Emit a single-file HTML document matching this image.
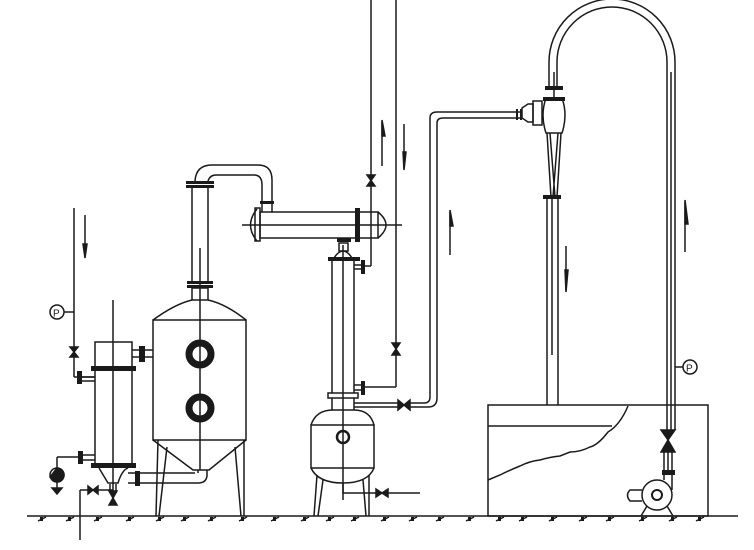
<!DOCTYPE html>
<html><head><meta charset="utf-8"><style>
html,body{margin:0;padding:0;background:#fff;}
svg{display:block;}
</style></head><body>
<svg width="754" height="550" viewBox="0 0 754 550" xmlns="http://www.w3.org/2000/svg" fill="none" stroke="#1a1a1a" stroke-width="1.5">
<!-- ground -->
<line x1="27" y1="516" x2="738" y2="516"/>
<g stroke-width="1.5">
<path d="M38 521l8-4M66 521l8-4M94 521l8-4M126 521l8-4M156 521l8-4M181 521l8-4M208 521l8-4M239 521l8-4M271 521l8-4M301 521l8-4M326 521l8-4M351 521l8-4M381 521l8-4M409 521l8-4M436 521l8-4M466 521l8-4M496 521l8-4M519 521l8-4M549 521l8-4M579 521l8-4M606 521l8-4M639 521l8-4M669 521l8-4M696 521l8-4"/>
</g>
<g fill="#1a1a1a" stroke="none">
<rect x="40" y="517" width="3" height="4"/><rect x="68" y="517" width="3" height="4"/><rect x="96" y="517" width="3" height="4"/><rect x="128" y="517" width="3" height="4"/><rect x="158" y="517" width="3" height="4"/><rect x="183" y="517" width="3" height="4"/><rect x="210" y="517" width="3" height="4"/><rect x="241" y="517" width="3" height="4"/><rect x="273" y="517" width="3" height="4"/><rect x="303" y="517" width="3" height="4"/><rect x="328" y="517" width="3" height="4"/><rect x="353" y="517" width="3" height="4"/><rect x="383" y="517" width="3" height="4"/><rect x="411" y="517" width="3" height="4"/><rect x="438" y="517" width="3" height="4"/><rect x="468" y="517" width="3" height="4"/><rect x="498" y="517" width="3" height="4"/><rect x="521" y="517" width="3" height="4"/><rect x="551" y="517" width="3" height="4"/><rect x="581" y="517" width="3" height="4"/><rect x="608" y="517" width="3" height="4"/><rect x="641" y="517" width="3" height="4"/><rect x="671" y="517" width="3" height="4"/><rect x="698" y="517" width="3" height="4"/>
</g>

<!-- left feed line -->
<line x1="74" y1="208" x2="74" y2="377"/>
<line x1="74" y1="377" x2="95" y2="377"/>
<line x1="85" y1="215" x2="85" y2="250"/>
<path d="M83 244 L85 258 L87 244Z" fill="#1a1a1a"/>
<line x1="64" y1="312" x2="74" y2="312"/>
<circle cx="57" cy="312" r="7"/>
<text x="53" y="316.5" font-family="Liberation Sans, sans-serif" font-size="10" fill="#1a1a1a" stroke="none">P</text>
<path d="M70 347 L78 347 L70 357 L78 357Z" fill="#1a1a1a"/>
<rect x="77" y="371" width="5" height="13" fill="#1a1a1a" stroke="none"/>

<!-- left exchanger -->
<rect x="95" y="342" width="37" height="124"/>
<line x1="113" y1="300" x2="113" y2="500"/>
<rect x="91" y="366" width="45" height="5" fill="#1a1a1a" stroke="none"/>
<rect x="91" y="463" width="45" height="5" fill="#1a1a1a" stroke="none"/>
<path d="M99 468 L108 483 L118 483 Q122 470 128 468"/>
<line x1="82" y1="377" x2="95" y2="377"/><line x1="82" y1="381" x2="95" y2="381"/>
<line x1="132" y1="350" x2="140" y2="350"/><line x1="132" y1="357" x2="140" y2="357"/>
<rect x="139" y="346" width="6" height="16" fill="#1a1a1a" stroke="none"/>
<line x1="145" y1="350" x2="153" y2="350"/><line x1="145" y1="357" x2="153" y2="357"/>
<line x1="57" y1="457" x2="78" y2="457"/>
<rect x="78" y="451" width="5" height="13" fill="#1a1a1a" stroke="none"/>
<line x1="83" y1="455" x2="95" y2="455"/><line x1="83" y1="460" x2="95" y2="460"/>
<line x1="57" y1="457" x2="57" y2="468"/>
<circle cx="57" cy="475" r="7"/>
<path d="M57 468 A7 7 0 0 1 57 482 L50 477 Z" fill="#1a1a1a"/>
<path d="M54 475 A7 7 0 0 0 57 482" fill="#1a1a1a"/>
<line x1="57" y1="482" x2="57" y2="490"/>
<path d="M52 488 L62 488 L57 494Z" fill="#1a1a1a"/>
<line x1="80" y1="490" x2="113" y2="490"/>
<line x1="80" y1="490" x2="80" y2="540"/>
<path d="M88 486 L88 494 L98 486 L98 494Z" fill="#1a1a1a"/>
<path d="M109 491 L117 491 L109 505 L117 505Z" fill="#1a1a1a"/>
<line x1="110" y1="484" x2="110" y2="492"/><line x1="116" y1="484" x2="116" y2="492"/>

<rect x="135" y="471" width="5" height="15" fill="#1a1a1a" stroke="none"/>
<path d="M128 473 L135 473 M128 483 L135 483"/>
<path d="M140 473 L195 473 M140 483 L198 483 Q206 483 207 476 L207 470"/>
<path d="M198 473 L198 470"/>
<!-- evaporator -->
<rect x="153" y="320" width="93" height="120"/>
<path d="M153 320 Q175 304 192 300 M208 300 Q226 304 246 320"/>
<rect x="192" y="288" width="16" height="12"/>
<rect x="187" y="281" width="26" height="3" fill="#1a1a1a" stroke="none"/>
<rect x="187" y="285" width="26" height="3" fill="#1a1a1a" stroke="none"/>
<line x1="200" y1="248" x2="200" y2="470"/>
<path d="M153 440 L193 470 L209 470 L246 440"/>
<line x1="158" y1="440" x2="156" y2="516"/><line x1="167" y1="447" x2="159" y2="516"/>
<line x1="244" y1="440" x2="244" y2="516"/><line x1="235" y1="447" x2="241" y2="516"/>
<circle cx="200" cy="354" r="11" stroke-width="7"/>
<circle cx="200" cy="408" r="11" stroke-width="7"/>
<line x1="192" y1="187" x2="192" y2="281"/><line x1="208" y1="187" x2="208" y2="281"/>
<rect x="186" y="181" width="28" height="3" fill="#1a1a1a" stroke="none"/>
<rect x="186" y="185" width="28" height="3" fill="#1a1a1a" stroke="none"/>
<path d="M195 181 Q196 165 212 165 L258 165 Q272 165 272 180 L272 212"/>
<path d="M208 181 Q210 175 216 175 L254 175 Q262 175 262 185 L262 212"/>
<rect x="260" y="201" width="14" height="3" fill="#1a1a1a" stroke="none"/>

<!-- condenser -->
<rect x="260" y="212" width="118" height="26"/>
<path d="M257 209 Q244 225 257 241"/>
<rect x="255" y="208" width="5" height="33"/>
<path d="M378 212 Q394 225 378 238"/>
<rect x="355" y="208" width="5" height="34" fill="#1a1a1a" stroke="none"/>
<line x1="242" y1="225" x2="402" y2="225"/>
<!-- column -->
<rect x="337" y="238" width="14" height="4" fill="#1a1a1a" stroke="none"/>
<rect x="339" y="243" width="9" height="8"/>
<path d="M334 258 Q343 244 352 258"/>
<rect x="328" y="257" width="32" height="4" fill="#1a1a1a" stroke="none"/>
<line x1="332" y1="261" x2="332" y2="393"/><line x1="354" y1="261" x2="354" y2="393"/>
<line x1="343" y1="245" x2="343" y2="500"/>
<rect x="328" y="393" width="30" height="5"/>
<line x1="332" y1="398" x2="332" y2="410"/><line x1="354" y1="398" x2="354" y2="410"/>
<line x1="354" y1="265" x2="362" y2="265"/><line x1="354" y1="269" x2="362" y2="269"/>
<rect x="361" y="260" width="4" height="14" fill="#1a1a1a" stroke="none"/>
<line x1="365" y1="266" x2="371" y2="266"/>
<line x1="354" y1="385" x2="362" y2="385"/><line x1="354" y1="390" x2="362" y2="390"/>
<rect x="361" y="381" width="4" height="14" fill="#1a1a1a" stroke="none"/>
<line x1="365" y1="387" x2="396" y2="387"/>
<line x1="371" y1="0" x2="371" y2="266"/>
<line x1="396" y1="0" x2="396" y2="387"/>
<path d="M367 175 L375 175 L367 186 L375 186Z" fill="#1a1a1a"/>
<path d="M392 343 L400 343 L392 355 L400 355Z" fill="#1a1a1a"/>
<line x1="382" y1="122" x2="382" y2="166"/><path d="M382 120 L385 136 L382 136Z" fill="#1a1a1a"/>
<line x1="404" y1="124" x2="404" y2="168"/><path d="M403 152 L406 152 L404 170Z" fill="#1a1a1a"/>
<!-- lower vessel -->
<path d="M311 425 Q316 410 333 410 L354 410 Q370 410 374 425"/>
<rect x="311" y="425" width="63" height="43"/>
<path d="M311 468 Q318 483 343 483 Q368 483 374 468"/>
<circle cx="343" cy="437" r="6" stroke-width="2.5"/>
<line x1="317" y1="475" x2="314" y2="516"/><line x1="323" y1="480" x2="318" y2="516"/>
<line x1="369" y1="475" x2="369" y2="516"/><line x1="363" y1="480" x2="366" y2="516"/>
<path d="M343 483 L343 493 L420 493"/>
<path d="M376 489 L376 497 L388 489 L388 497Z" fill="#1a1a1a"/>
<line x1="354" y1="403" x2="398" y2="403"/><line x1="354" y1="407" x2="398" y2="407"/>
<path d="M398 400 L398 410 L410 400 L410 410Z" fill="#1a1a1a"/>
<path d="M410 403 L424 403 Q430 403 430 397 L430 118 Q430 112 437 112 L520 112"/>
<path d="M410 407 L428 407 Q437 407 437 398 L437 123 Q437 118 443 118 L520 118"/>
<line x1="450" y1="212" x2="450" y2="255"/><path d="M450 210 L453 226 L450 226Z" fill="#1a1a1a"/>

<!-- ejector -->
<rect x="516" y="109" width="2" height="11" fill="#1a1a1a" stroke="none"/>
<rect x="520" y="109" width="2" height="11" fill="#1a1a1a" stroke="none"/>
<path d="M522 108 L528 104 L533 104 L533 122 L528 122 L522 118Z"/>
<rect x="533" y="101" width="9" height="24"/>
<path d="M546 98 L562 98 Q568 115 562 133 L546 133 Q540 115 546 98Z"/>
<rect x="545" y="86" width="18" height="4" fill="#1a1a1a" stroke="none"/>
<rect x="543" y="97" width="22" height="4" fill="#1a1a1a" stroke="none"/>
<line x1="554" y1="72" x2="554" y2="97"/>
<path d="M547 133 L551 197 M561 133 L557 197 M550 133 L555 197 M558 133 L553 197"/>
<rect x="543" y="195" width="18" height="4" fill="#1a1a1a" stroke="none"/>
<line x1="547" y1="199" x2="547" y2="405"/><line x1="552" y1="199" x2="552" y2="355"/><line x1="558" y1="199" x2="558" y2="405"/>
<line x1="566" y1="246" x2="566" y2="290"/><path d="M565 270 L568 270 L566 292Z" fill="#1a1a1a"/>
<path d="M549 86 L549 62 A63 63 0 0 1 675 62 L675 430"/>
<path d="M557 86 L557 62 A55 55 0 0 1 667 62 L667 430"/>
<line x1="671" y1="72" x2="671" y2="430"/>
<line x1="685" y1="202" x2="685" y2="252"/><path d="M685 200 L688 224 L685 224Z" fill="#1a1a1a"/>
<line x1="675" y1="367" x2="683" y2="367"/>
<circle cx="690" cy="367" r="7"/>
<text x="686" y="371.5" font-family="Liberation Sans, sans-serif" font-size="10" fill="#1a1a1a" stroke="none">P</text>

<!-- tank -->
<rect x="488" y="405" width="220" height="111"/>
<line x1="488" y1="426" x2="612" y2="426"/>
<path d="M628 406 Q620 425 608 432 Q598 445 590 447 Q580 452 570 452 L560 456 Q550 457 540 460 Q530 461 520 466 Q510 470 500 475 L488 480"/>
<path d="M661 430 L675 430 L668 440Z M661 452 L675 452 L668 440Z" fill="#1a1a1a"/>
<line x1="664" y1="452" x2="664" y2="472"/><line x1="668" y1="452" x2="668" y2="472"/><line x1="672" y1="452" x2="672" y2="472"/>
<rect x="662" y="470" width="13" height="5" fill="#1a1a1a" stroke="none"/>
<path d="M664 475 L664 480 M672 475 L672 490"/>
<circle cx="657" cy="495" r="15"/>
<circle cx="657" cy="495" r="5" stroke-width="2"/>
<path d="M642 490 L630 490 Q625 495 630 501 L642 501"/>
<path d="M647 506 L641 516 M667 506 L673 516"/>
</svg>
</body></html>
